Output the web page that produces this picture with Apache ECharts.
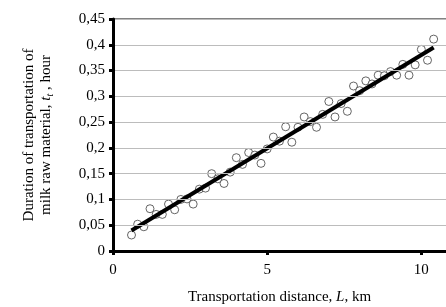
<!DOCTYPE html>
<html>
<head>
<meta charset="utf-8">
<script src="https://cdn.jsdelivr.net/npm/echarts@6/dist/echarts.min.js"></script>
<style>
  html, body { margin: 0; padding: 0; background: #fff; }
  #chart { width: 446px; height: 307px; }
</style>
</head>
<body>
<div id="chart"></div>
<script>
// transportation distance, km
const distance = [
  0.6, 0.8, 1.0, 1.2, 1.4, 1.6, 1.8, 2.0, 2.2, 2.4,
  2.6, 2.8, 3.0, 3.2, 3.4, 3.6, 3.8, 4.0, 4.2, 4.4,
  4.6, 4.8, 5.0, 5.2, 5.4, 5.6, 5.8, 6.0, 6.2, 6.4,
  6.6, 6.8, 7.0, 7.2, 7.4, 7.6, 7.8, 8.0, 8.2, 8.4,
  8.6, 8.8, 9.0, 9.2, 9.4, 9.6, 9.8, 10.0, 10.2, 10.4
];
// duration, hour
const duration = [
  0.031, 0.052, 0.047, 0.082, 0.071, 0.071, 0.091, 0.080, 0.100, 0.101,
  0.091, 0.120, 0.122, 0.150, 0.140, 0.131, 0.153, 0.181, 0.168, 0.191,
  0.186, 0.170, 0.198, 0.221, 0.213, 0.241, 0.211, 0.240, 0.260, 0.251,
  0.240, 0.265, 0.290, 0.260, 0.286, 0.271, 0.320, 0.311, 0.330, 0.324,
  0.341, 0.340, 0.348, 0.341, 0.362, 0.341, 0.361, 0.391, 0.370, 0.411
];
const xTicks = [0, 5, 10];

// least squares trend line
const n = distance.length;
const mx = distance.reduce((a, b) => a + b, 0) / n;
const my = duration.reduce((a, b) => a + b, 0) / n;
let sxy = 0, sxx = 0;
distance.forEach((x, i) => {
  sxy += (x - mx) * (duration[i] - my);
  sxx += (x - mx) * (x - mx);
});
const slope = sxy / sxx;
const icpt = my - slope * mx;
const xFirst = distance[0], xLast = distance[n - 1];
const trend = [[xFirst, icpt + slope * xFirst], [xLast, icpt + slope * xLast]];

const font = "'Liberation Serif', 'Times New Roman', serif";
const chart = echarts.init(document.getElementById("chart"));

chart.setOption({
  animation: false,
  grid: {left: 113, top: 19, right: 0, bottom: 56, containLabel: false, outerBoundsMode: "none"},
  xAxis: [
    {
      type: "value",
      min: 0,
      max: 10.8,
      interval: 5,
      name: "Transportation distance, {i|L}, km",
      nameLocation: "middle",
      nameGap: 39,
      nameTextStyle: {
        fontFamily: font, fontSize: 15, color: "#000",
        rich: {i: {fontFamily: font, fontSize: 15, fontStyle: "italic", color: "#000"}}
      },
      axisLine: {show: true, lineStyle: {color: "#000", width: 3}},
      axisTick: {show: true, inside: false, length: 4, lineStyle: {color: "#000", width: 3}},
      axisLabel: {
        fontFamily: font, fontSize: 15, color: "#000", margin: 12,
        showMaxLabel: false,
        formatter: v => (xTicks.includes(v) ? String(v) : "")
      },
      splitLine: {show: false},
      z: 4
    },
    {
      // top frame line of the plot area
      type: "value",
      position: "top",
      min: 0,
      max: 10.8,
      axisLine: {show: true, onZero: false, lineStyle: {color: "#595959", width: 1.5}},
      axisTick: {show: false},
      axisLabel: {show: false},
      splitLine: {show: false},
      z: 3
    }
  ],
  yAxis: {
    type: "value",
    min: 0,
    max: 0.45,
    interval: 0.05,
    name: "Duration of transportation of\nmilk raw material, {i|t}{s|t} , hour",
    nameLocation: "middle",
    nameRotate: 90,
    nameGap: 58,
    nameTextStyle: {
      fontFamily: font, fontSize: 15, color: "#000", lineHeight: 17,
      rich: {
        i: {fontFamily: font, fontSize: 15, fontStyle: "italic", color: "#000"},
        s: {fontFamily: font, fontSize: 10, fontStyle: "italic", color: "#000", verticalAlign: "bottom", padding: [6, 0, 0, 0]}
      }
    },
    axisLine: {show: true, lineStyle: {color: "#000", width: 3}},
    axisTick: {show: true, inside: false, length: 4, lineStyle: {color: "#000", width: 3}},
    axisLabel: {
      fontFamily: font, fontSize: 15, color: "#000", margin: 8,
      formatter: v => String(+v.toFixed(2)).replace(".", ",")
    },
    splitLine: {show: true, lineStyle: {color: "#bcbcbc", width: 1, type: "solid"}},
    z: 4
  },
  series: [
    {
      type: "scatter",
      data: distance.map((x, i) => [x, duration[i]]),
      symbol: "circle",
      symbolSize: 8,
      itemStyle: {color: "#fff", borderColor: "#404040", borderWidth: 1},
      z: 2
    },
    {
      type: "line",
      data: trend,
      symbol: "none",
      lineStyle: {color: "#000", width: 4},
      z: 3
    }
  ]
});
</script>
</body>
</html>
